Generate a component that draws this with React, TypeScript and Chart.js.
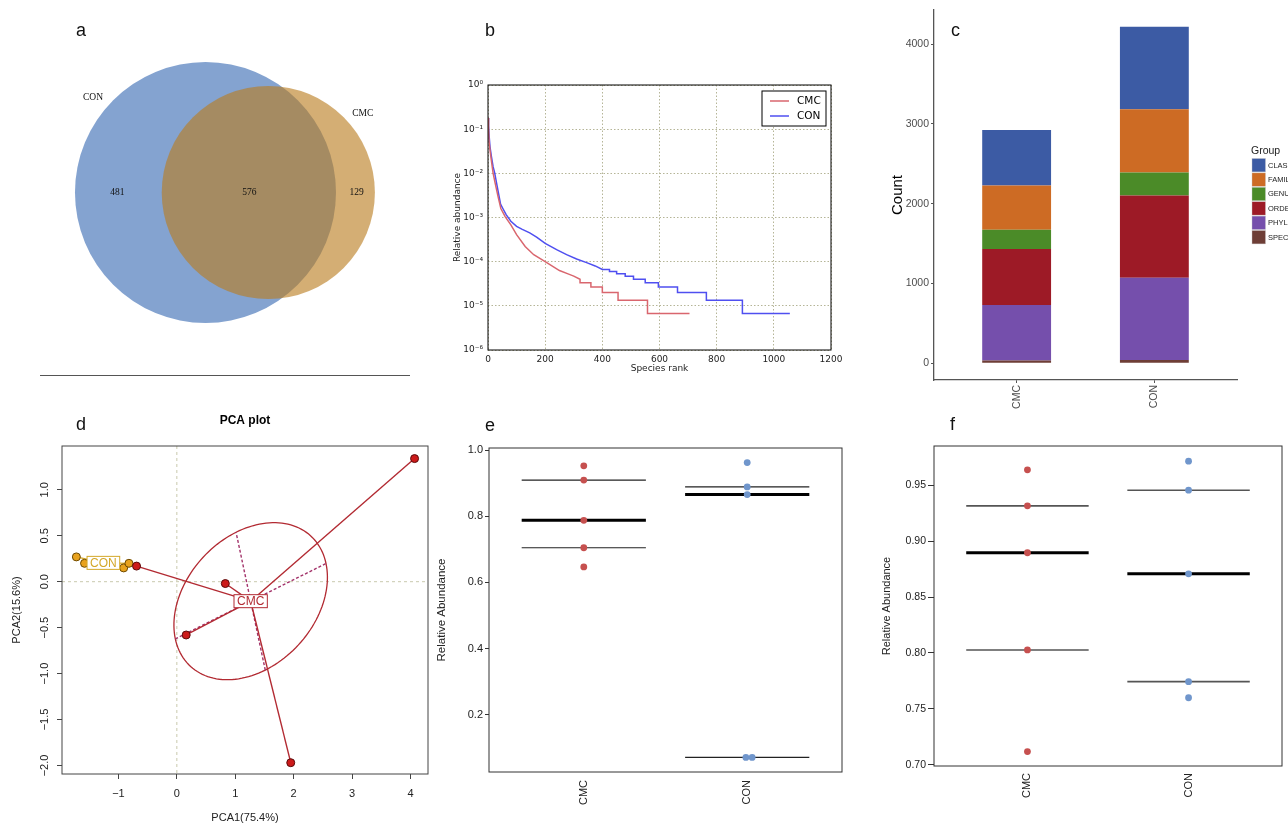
import React, { useEffect, useRef } from 'react';
import { Chart, registerables } from 'chart.js';

Chart.register(...registerables);
const SANS = "'Liberation Sans', Arial, Helvetica, sans-serif";
const DEJAVU = "'DejaVu Sans', sans-serif";
const SERIF = "'Liberation Serif', 'Times New Roman', serif";
Chart.defaults.font.family = SANS;
Chart.defaults.color = '#222';

// ---------------- a: Venn ----------------
const vennSets = ['CON', 'CMC'];
const vennUnique = [481, 129];
const vennShared = 576;

// ---------------- b: rank abundance ----------------
const rankCON = [1, 2, 4, 7, 12, 18, 23, 30, 38, 44, 52, 64, 80, 100, 120, 146, 170, 200, 240, 275, 310, 345, 375, 400,
  425, 425, 450, 450, 480, 480, 509, 509, 550, 550, 596, 596, 663, 663, 764, 764, 890, 890, 1056];
const abundCON = [0.18, 0.12, 0.07, 0.04, 0.024, 0.014, 0.0105, 0.006, 0.0032, 0.002, 0.0016, 0.00115, 0.00082, 0.00063,
  0.00054, 0.00045, 0.00036, 0.00026, 0.000187, 0.000144, 0.000115, 0.000095, 0.00008, 0.0000667,
  0.0000667, 0.00006, 0.00006, 0.0000533, 0.0000533, 0.0000467, 0.0000467, 0.00004, 0.00004, 0.0000333, 0.0000333,
  0.0000267, 0.0000267, 0.00002, 0.00002, 0.0000133, 0.0000133, 0.00000667, 0.00000667];
const rankCMC = [1, 2, 4, 8, 13, 18, 25, 35, 45, 60, 80, 100, 130, 160, 200, 250, 280, 300, 322,
  322, 360, 360, 400, 400, 455, 455, 558, 558, 705];
const abundCMC = [0.18, 0.1, 0.05, 0.03, 0.017, 0.01, 0.006, 0.003, 0.0016, 0.00105, 0.00068, 0.00041, 0.00022, 0.000144,
  0.0001, 0.000063, 0.000053, 0.000047, 0.00004,
  0.0000333, 0.0000333, 0.0000267, 0.0000267, 0.00002, 0.00002, 0.0000133, 0.0000133, 0.00000667, 0.00000667];
const rankTicks = [0, 200, 400, 600, 800, 1000, 1200];
const abundTicks = [1e-6, 1e-5, 1e-4, 1e-3, 1e-2, 1e-1, 1];
const abundTickLabels = ['10⁻⁶', '10⁻⁵', '10⁻⁴', '10⁻³', '10⁻²', '10⁻¹', '10⁰'];

// ---------------- c: stacked counts ----------------
const groupNames = ['CMC', 'CON'];
const taxGroups = ['CLASS', 'FAMILY', 'GENUS', 'ORDER', 'PHYLUM', 'SPECIES'];
const taxCMC = [695, 553, 242, 704, 695, 33];
const taxCON = [1035, 792, 288, 1030, 1031, 41];
const taxColors = ['#3c5ba4', '#cd6b24', '#4b8b28', '#9d1a26', '#754fac', '#6e3e36'];
const countTicks = [0, 1000, 2000, 3000, 4000];

// ---------------- d: PCA ----------------
const pcaCMCx = [-0.69, 0.83, 0.16, 1.95, 4.07];
const pcaCMCy = [0.17, -0.02, -0.58, -1.97, 1.34];
const pcaCONx = [-1.72, -1.58, -0.91, -0.82];
const pcaCONy = [0.27, 0.2, 0.15, 0.2];
const pcaXTicks = [-1, 0, 1, 2, 3, 4];
const pcaYTicks = [-2, -1.5, -1, -0.5, 0, 0.5, 1];
const ellipseAxisA = [1.29, 0.41];
const ellipseAxisB = [-0.25, 0.75];

// ---------------- e / f: relative abundance strips ----------------
const eCMC = [0.953, 0.91, 0.788, 0.705, 0.647];
const eCON = [0.963, 0.889, 0.866, 0.07, 0.07];
const eCONJitter = [0, 0, 0, -0.008, 0.03];
const eCMCLines = [0.91, 0.788, 0.705];
const eCONLines = [0.889, 0.866, 0.07];
const eTicks = [0.2, 0.4, 0.6, 0.8, 1.0];
const fCMC = [0.9637, 0.9315, 0.8896, 0.8027, 0.7119];
const fCON = [0.9714, 0.9455, 0.8708, 0.7744, 0.76];
const fCMCLines = [0.9315, 0.8896, 0.8027];
const fCONLines = [0.9455, 0.8708, 0.7744];
const fTicks = [0.7, 0.75, 0.8, 0.85, 0.9, 0.95];

// ---------------- helpers ----------------
const fixY = (w: number) => (s: any) => { s.width = w; s.paddingTop = 0; s.paddingBottom = 0; };
const fixX = (h: number) => (s: any) => { s.height = h; s.paddingLeft = 0; s.paddingRight = 0; };
const setTicks = (vals: number[]) => (s: any) => { s.ticks = vals.map((v) => ({ value: v })); };
const mean = (a: number[]) => a.reduce((p, c) => p + c, 0) / a.length;

const framePlugin = (color: string, width: number) => ({
  id: 'frame',
  afterDatasetsDraw(chart: any) {
    const { ctx, chartArea: a } = chart;
    ctx.save();
    ctx.strokeStyle = color;
    ctx.lineWidth = width;
    ctx.strokeRect(a.left, a.top, a.right - a.left, a.bottom - a.top);
    ctx.restore();
  },
});

const base = (padding: any) => ({
  responsive: false,
  animation: false,
  events: [],
  layout: { padding, autoPadding: false },
  plugins: { legend: { display: false }, tooltip: { enabled: false }, title: { display: false } },
});

// ---------------- a ----------------
const VENN_DIST = 8.83;
const vennLabelPos = [{ x: -15.8, y: 13.3 }, { x: 22.1, y: 11.1 }];
const vennCountPos = [{ x: -12.4, y: 0 }, { x: 6.16, y: 0 }, { x: 21.25, y: 0 }];

function vennConfig() {
  const radii = [
    Math.sqrt((vennUnique[0] + vennShared) / Math.PI),
    Math.sqrt((vennUnique[1] + vennShared) / Math.PI),
  ];
  const pxR = (r: number) => (ctx: any) => {
    const s = ctx.chart.scales.x;
    if (!s || !s.width) return 0;
    const v = Math.abs(s.getPixelForValue(r) - s.getPixelForValue(0));
    return isFinite(v) ? v : 0;
  };
  const textPlugin = {
    id: 'vennText',
    afterDatasetsDraw(chart: any) {
      const { ctx, scales: { x, y } } = chart;
      ctx.save();
      ctx.fillStyle = '#111';
      ctx.font = `9.5px ${SERIF}`;
      ctx.textAlign = 'center';
      ctx.textBaseline = 'middle';
      vennSets.forEach((n, i) => ctx.fillText(n, x.getPixelForValue(vennLabelPos[i].x), y.getPixelForValue(vennLabelPos[i].y)));
      const counts = [vennUnique[0], vennShared, vennUnique[1]];
      counts.forEach((c, i) => ctx.fillText(String(c), x.getPixelForValue(vennCountPos[i].x), y.getPixelForValue(vennCountPos[i].y)));
      ctx.restore();
    },
  };
  return {
    type: 'scatter',
    data: {
      datasets: [
        { label: vennSets[0], data: [{ x: 0, y: 0 }], backgroundColor: '#84a3d0', borderWidth: 0, pointBorderWidth: 0, pointRadius: pxR(radii[0]), order: 2, clip: false },
        { label: vennSets[1], data: [{ x: VENN_DIST, y: 0 }], backgroundColor: 'rgba(186,124,30,0.62)', borderWidth: 0, pointBorderWidth: 0, pointRadius: pxR(radii[1]), order: 1, clip: false },
      ],
    },
    options: {
      ...base({ left: 0, top: 0, right: 0, bottom: 0 }),
      scales: {
        x: { type: 'linear', display: false, min: -28.88, max: 32.96 },
        y: { type: 'linear', display: false, min: -27.76, max: 27.06 },
      },
    },
    plugins: [textPlugin],
  };
}

// ---------------- b ----------------
function rankConfig() {
  const legendPlugin = {
    id: 'legendB',
    afterDraw(chart: any) {
      const { ctx, chartArea: a } = chart;
      const w = 64, h = 35;
      const x0 = a.right - 5 - w, y0 = a.top + 6;
      ctx.save();
      ctx.fillStyle = '#fff';
      ctx.fillRect(x0, y0, w, h);
      ctx.strokeStyle = '#000';
      ctx.lineWidth = 1;
      ctx.strokeRect(x0, y0, w, h);
      chart.data.datasets.forEach((ds: any, i: number) => {
        const yy = y0 + 10 + i * 15;
        ctx.strokeStyle = ds.borderColor;
        ctx.lineWidth = 1.5;
        ctx.beginPath();
        ctx.moveTo(x0 + 8, yy);
        ctx.lineTo(x0 + 27, yy);
        ctx.stroke();
        ctx.fillStyle = '#000';
        ctx.font = `10.5px ${DEJAVU}`;
        ctx.textBaseline = 'middle';
        ctx.fillText(ds.label, x0 + 35, yy);
      });
      ctx.restore();
    },
  };
  const tickFont = { family: DEJAVU, size: 9 };
  const gridStyle = { color: '#b5b597', lineWidth: 1, drawTicks: false };
  return {
    type: 'line',
    data: {
      datasets: [
        { label: 'CMC', data: rankCMC.map((x, i) => ({ x, y: abundCMC[i] })), borderColor: '#d9666e', borderWidth: 1.5, pointRadius: 0, tension: 0 },
        { label: 'CON', data: rankCON.map((x, i) => ({ x, y: abundCON[i] })), borderColor: '#4f4ff0', borderWidth: 1.5, pointRadius: 0, tension: 0 },
      ],
    },
    options: {
      ...base({ left: 0, top: 15, right: 19, bottom: 8 }),
      scales: {
        x: {
          type: 'linear', min: 0, max: 1200, afterBuildTicks: setTicks(rankTicks), afterFit: fixX(32),
          grid: gridStyle, border: { display: false, dash: [1.5, 2] },
          ticks: { font: tickFont, color: '#222', padding: 4, maxRotation: 0, autoSkip: false, callback: (v: any) => String(v) },
          title: { display: true, text: 'Species rank', font: tickFont, color: '#222', padding: { top: 0, bottom: 8 } },
        },
        y: {
          type: 'logarithmic', min: 1e-6, max: 1, afterBuildTicks: setTicks(abundTicks), afterFit: fixY(48),
          grid: gridStyle, border: { display: false, dash: [1.5, 2] },
          ticks: {
            font: tickFont, color: '#222', padding: 5, autoSkip: false,
            callback: (v: any) => abundTickLabels[Math.round(Math.log10(v)) + 6],
          },
          title: { display: true, text: 'Relative abundance', font: tickFont, color: '#222', padding: { top: 12.5, bottom: 0 } },
        },
      },
    },
    plugins: [framePlugin('#000', 1), legendPlugin],
  };
}

// ---------------- c ----------------
function stackConfig() {
  const totals = [taxCMC, taxCON].map((a) => a.reduce((p, c) => p + c, 0));
  const pad = 0.05 * Math.max(...totals);
  const legendPlugin = {
    id: 'groupLegend',
    afterDraw(chart: any) {
      const { ctx, chartArea: a } = chart;
      const x0 = a.right + 15;
      ctx.save();
      ctx.fillStyle = '#222';
      ctx.font = `10.5px ${SANS}`;
      ctx.textBaseline = 'alphabetic';
      ctx.fillText('Group', x0 - 1, 154);
      taxGroups.forEach((g, i) => {
        const y = 158 + i * 14.4;
        ctx.fillStyle = taxColors[i];
        ctx.fillRect(x0, y + 0.5, 13.5, 13.4);
        ctx.strokeStyle = 'rgba(200,200,200,0.8)';
        ctx.lineWidth = 0.5;
        ctx.strokeRect(x0, y + 0.5, 13.5, 13.4);
        ctx.fillStyle = '#222';
        ctx.font = `7.5px ${SANS}`;
        ctx.textBaseline = 'middle';
        ctx.fillText(g, x0 + 16, y + 7.5);
      });
      ctx.restore();
    },
  };
  const axisGrid = { drawOnChartArea: false, tickLength: 3, color: '#555', lineWidth: 1, offset: false };
  return {
    type: 'bar',
    data: {
      datasets: taxGroups.map((g, i) => ({
        label: g,
        data: [{ x: 1, y: taxCMC[i] }, { x: 2, y: taxCON[i] }],
        backgroundColor: taxColors[i],
        borderWidth: 0,
        stack: 'all',
        barPercentage: 0.5,
        categoryPercentage: 1,
      })).reverse(),
    },
    options: {
      ...base({ left: 0, top: 10, right: 63, bottom: 8 }),
      scales: {
        x: {
          type: 'linear', stacked: true, offset: false, min: 0.4, max: 2.6, afterBuildTicks: setTicks([1, 2]), afterFit: fixX(32),
          grid: axisGrid, border: { display: true, color: '#555', width: 1.3 },
          ticks: { font: { size: 10.5 }, color: '#4d4d4d', padding: 2, minRotation: 90, maxRotation: 90, autoSkip: false, callback: (v: any) => groupNames[Math.round(v) - 1] },
        },
        y: {
          type: 'linear', stacked: true, min: -pad, max: Math.max(...totals) + pad, afterBuildTicks: setTicks(countTicks), afterFit: fixY(54),
          grid: axisGrid, border: { display: true, color: '#555', width: 1.3 },
          ticks: { font: { size: 10.5 }, color: '#4d4d4d', padding: 2, autoSkip: false, callback: (v: any) => String(v) },
          title: { display: true, text: 'Count', font: { size: 15 }, color: '#000', padding: { top: 9, bottom: 0 } },
        },
      },
    },
    plugins: [legendPlugin],
  };
}

// ---------------- d ----------------
function pcaConfig() {
  const cCMC = { x: mean(pcaCMCx), y: mean(pcaCMCy) };
  const cCON = { x: mean(pcaCONx), y: mean(pcaCONy) };
  const red = '#b22a32';
  const gold = '#d4a82a';
  const spider = (xs: number[], ys: number[], c: any, color: string) =>
    xs.map((x, i) => ({
      data: [{ x, y: ys[i] }, c], showLine: true, borderColor: color, borderWidth: 1.4, pointRadius: 0, order: 5,
    }));
  const decor = {
    id: 'pcaDecor',
    beforeDatasetsDraw(chart: any) {
      const { ctx, chartArea: a, scales: { x, y } } = chart;
      ctx.save();
      ctx.strokeStyle = '#c9c9ae';
      ctx.lineWidth = 1;
      ctx.setLineDash([3, 3]);
      const x0 = x.getPixelForValue(0), y0 = y.getPixelForValue(0);
      ctx.beginPath();
      ctx.moveTo(x0, a.top); ctx.lineTo(x0, a.bottom);
      ctx.moveTo(a.left, y0); ctx.lineTo(a.right, y0);
      ctx.stroke();
      ctx.setLineDash([]);
      ctx.strokeStyle = red;
      ctx.lineWidth = 1.3;
      ctx.beginPath();
      for (let k = 0; k <= 144; k++) {
        const t = (k / 144) * Math.PI * 2;
        const px = x.getPixelForValue(cCMC.x + Math.cos(t) * ellipseAxisA[0] + Math.sin(t) * ellipseAxisB[0]);
        const py = y.getPixelForValue(cCMC.y + Math.cos(t) * ellipseAxisA[1] + Math.sin(t) * ellipseAxisB[1]);
        if (k === 0) ctx.moveTo(px, py); else ctx.lineTo(px, py);
      }
      ctx.closePath();
      ctx.stroke();
      ctx.setLineDash([3, 2]);
      ctx.strokeStyle = '#a3336a';
      ctx.lineWidth = 1.4;
      [ellipseAxisA, ellipseAxisB].forEach((v) => {
        ctx.beginPath();
        ctx.moveTo(x.getPixelForValue(cCMC.x - v[0]), y.getPixelForValue(cCMC.y - v[1]));
        ctx.lineTo(x.getPixelForValue(cCMC.x + v[0]), y.getPixelForValue(cCMC.y + v[1]));
        ctx.stroke();
      });
      ctx.restore();
    },
    afterDatasetsDraw(chart: any) {
      const { ctx, scales: { x, y } } = chart;
      ctx.save();
      ctx.font = `12px ${SANS}`;
      ctx.textAlign = 'center';
      ctx.textBaseline = 'middle';
      const box = (label: string, c: any, color: string) => {
        const px = x.getPixelForValue(c.x), py = y.getPixelForValue(c.y);
        const w = ctx.measureText(label).width + 6, h = 13;
        ctx.fillStyle = '#fff';
        ctx.fillRect(px - w / 2, py - h / 2, w, h);
        ctx.strokeStyle = color;
        ctx.lineWidth = 1;
        ctx.strokeRect(px - w / 2, py - h / 2, w, h);
        ctx.fillStyle = color;
        ctx.fillText(label, px, py + 0.5);
      };
      box('CMC', cCMC, red);
      box('CON', cCON, gold);
      ctx.restore();
    },
    afterDraw(chart: any) {
      const { ctx, chartArea: a, scales: { y } } = chart;
      ctx.save();
      ctx.fillStyle = '#222';
      ctx.font = `11px ${SANS}`;
      ctx.textAlign = 'center';
      ctx.textBaseline = 'alphabetic';
      y.ticks.forEach((t: any) => {
        ctx.save();
        ctx.translate(a.left - 14.5, y.getPixelForValue(t.value));
        ctx.rotate(-Math.PI / 2);
        ctx.fillText(t.label, 0, 0);
        ctx.restore();
      });
      ctx.font = `bold 12px ${SANS}`;
      ctx.fillStyle = '#000';
      ctx.textBaseline = 'middle';
      ctx.fillText('PCA plot', (a.left + a.right) / 2, 21);
      ctx.restore();
    },
  };
  const axisGrid = { drawOnChartArea: false, tickLength: 5, color: '#444', lineWidth: 1 };
  const titleFont = { size: 11 };
  return {
    type: 'scatter',
    data: {
      datasets: [
        { label: 'CMC', data: pcaCMCx.map((x, i) => ({ x, y: pcaCMCy[i] })), backgroundColor: '#cc1a1a', borderColor: '#5a0a0a', borderWidth: 1, pointRadius: 4, order: 0 },
        { label: 'CON', data: pcaCONx.map((x, i) => ({ x, y: pcaCONy[i] })), backgroundColor: '#e8a21e', borderColor: '#6e4a00', borderWidth: 1, pointRadius: 4, order: 0 },
        ...spider(pcaCMCx, pcaCMCy, cCMC, red),
        ...spider(pcaCONx, pcaCONy, cCON, gold),
      ],
    },
    options: {
      ...base({ left: 0, top: 46, right: 12, bottom: 0 }),
      scales: {
        x: {
          type: 'linear', min: -1.966, max: 4.3, afterBuildTicks: setTicks(pcaXTicks), afterFit: fixX(51),
          grid: axisGrid, border: { display: false },
          ticks: { font: { size: 11 }, color: '#222', padding: 8, maxRotation: 0, autoSkip: false, callback: (v: any) => String(v).replace('-', '−') },
          title: { display: true, text: 'PCA1(75.4%)', font: titleFont, color: '#222', padding: { top: 0, bottom: 0 } },
        },
        y: {
          type: 'linear', min: -2.093, max: 1.477, afterBuildTicks: setTicks(pcaYTicks), afterFit: fixY(62),
          grid: axisGrid, border: { display: false },
          ticks: { font: { size: 11 }, color: 'rgba(0,0,0,0)', autoSkip: false, callback: (v: any) => Number(v).toFixed(1).replace('-', '−') },
          title: { display: true, text: 'PCA2(15.6%)', font: titleFont, color: '#222', padding: { top: 10.5, bottom: 0 } },
        },
      },
    },
    plugins: [decor, framePlugin('#444', 1)],
  };
}

// ---------------- e / f ----------------
function stripConfig(p: any) {
  const HALF = 0.38;
  const segs = (lines: number[], cx: number) =>
    lines.map((v, i) => ({
      data: [{ x: cx - HALF, y: v }, { x: cx + HALF, y: v }],
      showLine: true, pointRadius: 0,
      borderColor: i === 1 ? '#000' : p.thinColor,
      borderWidth: i === 1 ? 3 : p.thinWidth,
      order: 2,
    }));
  return {
    type: 'scatter',
    data: {
      datasets: [
        { label: 'CMC', data: p.cmc.map((v: number, i: number) => ({ x: 1 + (p.cmcJit ? p.cmcJit[i] : 0), y: v })), backgroundColor: '#c6504f', borderWidth: 0, pointRadius: 3.4, order: 1 },
        { label: 'CON', data: p.con.map((v: number, i: number) => ({ x: 2 + (p.conJit ? p.conJit[i] : 0), y: v })), backgroundColor: '#7096cc', borderWidth: 0, pointRadius: 3.4, order: 1 },
        ...segs(p.cmcLines, 1),
        ...segs(p.conLines, 2),
      ],
    },
    options: {
      ...base(p.padding),
      scales: {
        x: {
          type: 'linear', min: 0.42, max: 2.58, afterBuildTicks: setTicks([1, 2]), afterFit: fixX(p.xHeight),
          grid: { display: false, drawTicks: false }, border: { display: false },
          ticks: { font: { size: 11 }, color: '#222', padding: p.xPad, minRotation: 90, maxRotation: 90, autoSkip: false, callback: (v: any) => groupNames[Math.round(v) - 1] },
        },
        y: {
          type: 'linear', min: p.yMin, max: p.yMax, afterBuildTicks: setTicks(p.yTicks), afterFit: fixY(p.yWidth),
          grid: { drawOnChartArea: false, tickLength: p.tickLen, color: '#333', lineWidth: 1 }, border: { display: false },
          ticks: { font: { size: p.tickFont }, color: '#222', padding: 2, autoSkip: false, callback: (v: any) => Number(v).toFixed(p.digits) },
          title: { display: true, text: 'Relative Abundance', font: { size: p.titleFont }, color: '#222', padding: { top: p.titlePad, bottom: 0 } },
        },
      },
    },
    plugins: [framePlugin('#333', 1)],
  };
}

const eConfig = () =>
  stripConfig({
    cmc: eCMC, con: eCON, conJit: eCONJitter, cmcLines: eCMCLines, conLines: eCONLines,
    yMin: 0.026, yMax: 1.007, yTicks: eTicks, digits: 1, tickFont: 11, titleFont: 11.5, titlePad: 4.8,
    thinColor: '#222', thinWidth: 1.2, padding: { left: 0, top: 18, right: 8, bottom: 8 }, yWidth: 59, xHeight: 45, xPad: 8, tickLen: 4,
  });

const fConfig = () =>
  stripConfig({
    cmc: fCMC, con: fCON, cmcLines: fCMCLines, conLines: fCONLines,
    yMin: 0.699, yMax: 0.985, yTicks: fTicks, digits: 2, tickFont: 10.5, titleFont: 11, titlePad: 10,
    thinColor: '#555', thinWidth: 1.6, padding: { left: 0, top: 36, right: 6, bottom: 9 }, yWidth: 64, xHeight: 50, xPad: 7, tickLen: 6,
  });

// ---------------- components ----------------
function ChartPanel({ left, top, width, height, make }: { left: number; top: number; width: number; height: number; make: () => any }) {
  const ref = useRef<HTMLCanvasElement | null>(null);
  useEffect(() => {
    if (!ref.current) return;
    const chart = new Chart(ref.current, make());
    return () => chart.destroy();
  }, []);
  return <canvas ref={ref} width={width} height={height} style={{ position: 'absolute', left, top, width, height }} />;
}

const panelLetters = [
  { t: 'a', x: 76, y: 21 },
  { t: 'b', x: 485, y: 21 },
  { t: 'c', x: 951, y: 21 },
  { t: 'd', x: 76, y: 415 },
  { t: 'e', x: 485, y: 416 },
  { t: 'f', x: 950, y: 415 },
];

export default function App() {
  return (
    <div style={{ position: 'fixed', left: 0, top: 0, width: 1288, height: 825, overflow: 'hidden', background: '#fff' }}>
      <ChartPanel left={0} top={0} width={440} height={390} make={vennConfig} />
      <div style={{ position: 'absolute', left: 40, top: 375, width: 370, borderTop: '1px solid #555' }} />
      <ChartPanel left={440} top={70} width={410} height={320} make={rankConfig} />
      <ChartPanel left={880} top={0} width={420} height={420} make={stackConfig} />
      <ChartPanel left={0} top={400} width={440} height={425} make={pcaConfig} />
      <ChartPanel left={430} top={430} width={420} height={395} make={eConfig} />
      <ChartPanel left={870} top={410} width={418} height={415} make={fConfig} />
      {panelLetters.map((l) => (
        <div key={l.t} style={{ position: 'absolute', left: l.x, top: l.y, fontFamily: SANS, fontSize: 18, lineHeight: '18px', color: '#111' }}>
          {l.t}
        </div>
      ))}
    </div>
  );
}
